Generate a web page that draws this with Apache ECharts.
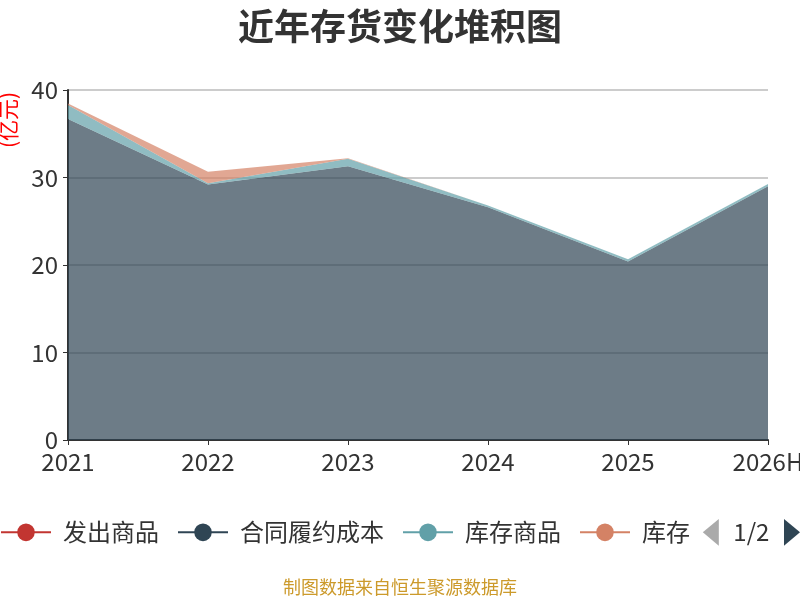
<!DOCTYPE html>
<html>
<head>
<meta charset="utf-8">
<style>
  html, body { margin: 0; padding: 0; background: #fff; }
  #app { width: 800px; height: 600px; }
</style>
<script src="https://cdn.jsdelivr.net/npm/echarts@6/dist/echarts.min.js"></script>
</head>
<body>
<div id="app"></div>
<script>
const years = ['2021', '2022', '2023', '2024', '2025', '2026H'];

// 亿元
const fachu = [0, 0, 0, 0, 0, 0];                        // 发出商品
const hetong = [36.7, 29.2, 31.3, 26.6, 20.4, 29.0];     // 合同履约成本
const kucunShangpin = [1.6, 0.15, 0.85, 0.2, 0.25, 0.25]; // 库存商品
const kucun = [0.15, 1.3, 0.05, 0, 0, 0];                // 库存
const yuancailiao = [0, 0, 0, 0, 0, 0];                  // 原材料

const names = ['发出商品', '合同履约成本', '库存商品', '库存', '原材料'];
const values = [fachu, hetong, kucunShangpin, kucun, yuancailiao];
const colors = ['#c23531', '#2f4554', '#61a0a8', '#d48265', '#91c7ae'];

const font = '"Noto Sans CJK SC", "Microsoft YaHei", sans-serif';
const myChart = echarts.init(document.getElementById('app'));

const option = {
  color: colors,
  textStyle: { fontFamily: font },
  title: {
    text: '近年存货变化堆积图',
    left: 'center',
    top: 3,
    textStyle: { fontSize: 36, fontWeight: 'bold', color: '#333', fontFamily: font }
  },
  legend: {
    type: 'scroll',
    left: 0,
    right: 0,
    top: 519,
    padding: [0, 0],
    itemWidth: 50,
    itemHeight: 22,
    itemGap: 18,
    data: names,
    lineStyle: { width: 2 },
    textStyle: { fontSize: 24, color: '#333', padding: [0, 0, 0, 7] },
    pageIconColor: '#2f4554',
    pageIconInactiveColor: '#aaa',
    pageIconSize: [16, 27],
    pageButtonItemGap: 4,
    pageButtonGap: 5,
    pageTextStyle: { fontSize: 24, color: '#333' }
  },
  grid: { left: 68, right: 32, top: 90, bottom: 160, outerBoundsMode: 'none' },
  xAxis: {
    type: 'category',
    boundaryGap: false,
    data: years,
    axisLine: { lineStyle: { color: '#333', width: 2 } },
    axisTick: { show: true, lineStyle: { color: '#333' } },
    axisLabel: { fontSize: 24, color: '#333', margin: 10 }
  },
  yAxis: {
    type: 'value',
    min: 0,
    max: 40,
    interval: 10,
    axisLine: { show: true, lineStyle: { color: '#333', width: 2 } },
    axisTick: { show: true, lineStyle: { color: '#333' } },
    axisLabel: { fontSize: 24, color: '#333', margin: 10 },
    splitLine: { lineStyle: { color: '#ccc', width: 2 } }
  },
  graphic: [{
    type: 'text',
    x: 8,
    y: 120,
    rotation: Math.PI / 2,
    style: {
      text: '(亿元)',
      fill: 'red',
      fontSize: 21,
      fontFamily: font,
      align: 'center',
      verticalAlign: 'middle'
    }
  }, {
    type: 'text',
    left: 'center',
    top: 578,
    style: {
      text: '制图数据来自恒生聚源数据库',
      fill: '#cc9a2b',
      fontSize: 18,
      fontFamily: font
    }
  }],
  series: names.map((name, i) => ({
    name,
    type: 'line',
    stack: 'total',
    data: values[i],
    symbol: 'circle',
    symbolSize: 8,
    showSymbol: false,
    lineStyle: { width: 0 },
    areaStyle: { opacity: 0.7 }
  }))
};

myChart.setOption(option);
</script>
</body>
</html>
